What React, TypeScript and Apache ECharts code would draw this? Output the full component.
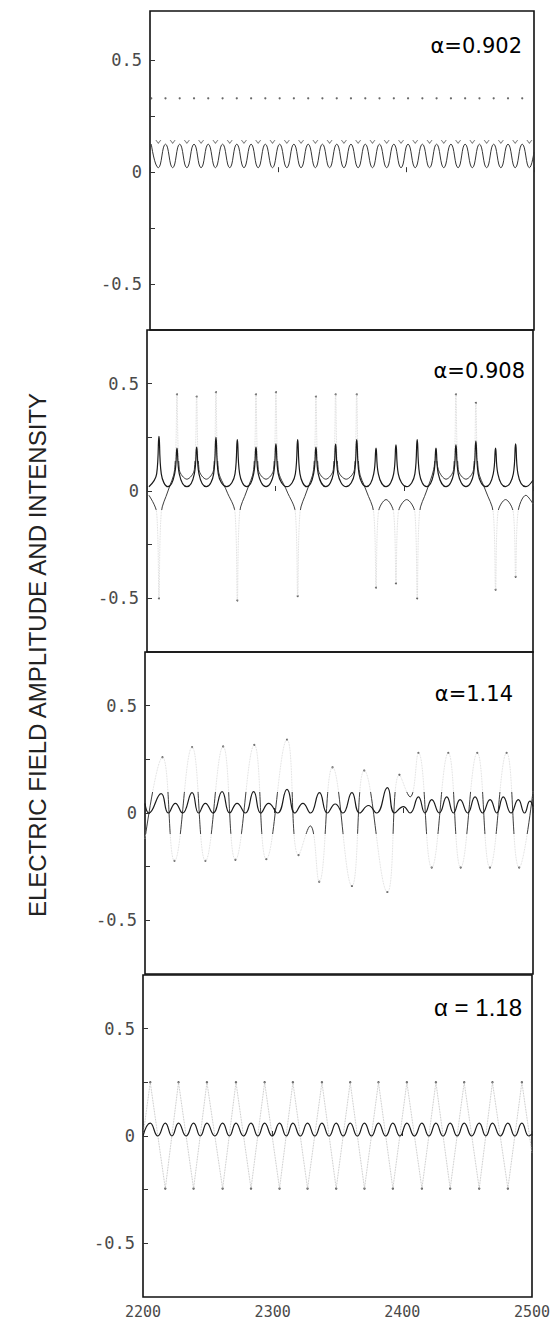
import React, { useEffect, useRef } from "react";
import * as echarts from "echarts";

// ---------- axes / text ----------
const xMin = 2200;
const xMax = 2500;
const xInterval = 100;
const yTickValues = [-0.5, -0.25, 0, 0.25, 0.5];
const yLabelValues = [-0.5, 0, 0.5];
const panelYMin = [-0.705, -0.75, -0.75, -0.75];
const panelYMax = [0.72, 0.75, 0.75, 0.75];
const alphaLabels = ["α=0.902", "α=0.908", "α=1.14", "α = 1.18"];
const yTitle = "ELECTRIC FIELD AMPLITUDE AND INTENSITY";

// ---------- panel 1 (alpha = 0.902) ----------
const p1PeakX = [2201.0, 2212.1, 2223.2, 2234.4, 2245.5, 2256.7, 2267.8, 2279.0, 2290.1, 2301.3, 2312.4, 2323.6, 2334.7, 2345.9, 2357.0, 2368.2, 2379.3, 2390.5, 2401.6, 2412.8, 2423.9, 2435.1, 2446.2, 2457.4, 2468.5, 2479.7, 2490.8];
const p1TroughX = [2206.5, 2217.7, 2228.8, 2239.9, 2251.1, 2262.3, 2273.4, 2284.5, 2295.7, 2306.9, 2318.0, 2329.2, 2340.3, 2351.5, 2362.6, 2373.8, 2384.9, 2396.1, 2407.2, 2418.4, 2429.5, 2440.7, 2451.8, 2463.0, 2474.1, 2485.3, 2496.4];
const p1IntensityHigh = 0.125;
const p1IntensityLow = 0.02;
const p1FieldHigh = 0.33;
const p1FieldLow = 0.135;
const p1End = [2500, 0.09];

// ---------- panel 2 (alpha = 0.908) ----------
const p2SpikeX = [2209.3, 2223.3, 2238.6, 2253.6, 2270.2, 2284.7, 2300.2, 2317.1, 2331.3, 2346.6, 2363.0, 2378.0, 2393.5, 2410.0, 2424.6, 2440.1, 2455.6, 2470.9, 2486.5];
const p2SpikeY = [0.255, 0.2, 0.205, 0.25, 0.24, 0.205, 0.22, 0.24, 0.205, 0.218, 0.24, 0.2, 0.215, 0.24, 0.2, 0.215, 0.233, 0.2, 0.22];
const p2TroughX = [2201.5, 2216.3, 2231.0, 2246.1, 2261.9, 2277.5, 2292.5, 2308.7, 2324.2, 2339.0, 2354.8, 2370.5, 2385.8, 2401.8, 2417.3, 2432.4, 2447.9, 2463.3, 2478.7, 2494.5];
const p2TroughY = [0.02, 0.02, 0.02, 0.02, 0.02, 0.02, 0.02, 0.02, 0.02, 0.02, 0.02, 0.02, 0.02, 0.02, 0.02, 0.02, 0.02, 0.02, 0.02, 0.02];
const p2ShoulderY = 0.08;
const p2SpikeHalfWidth = 1.8;
const p2FieldTip = [-0.5, 0.45, 0.44, 0.46, -0.51, 0.45, 0.46, -0.49, 0.44, 0.45, 0.45, -0.45, -0.43, -0.5, 0.2, 0.45, 0.41, -0.46, -0.4];
const p2FieldTroughY = [-0.02, 0.0, 0.055, 0.055, 0.0, 0.0, 0.055, 0.0, 0.0, 0.055, 0.055, 0.0, -0.04, -0.04, 0.0, 0.055, 0.055, 0.0, -0.04, -0.02];
const p2FieldShoulder = 0.1;
const p2End = [2500, 0.05];
const p2FieldEnd = [2500, -0.06];

// ---------- panel 3 (alpha = 1.14) ----------
const p3Intensity = [
  [2200, 0.045], [2203, 0.0], [2212.5, 0.09], [2218, 0.0], [2223.5, 0.045], [2229, 0.0],
  [2236.4, 0.095], [2241.5, 0.0], [2246.7, 0.045], [2252.5, 0.0], [2259.6, 0.1], [2265.5, 0.0],
  [2271.2, 0.045], [2277.5, 0.0], [2284.0, 0.1], [2289.5, 0.0], [2295.6, 0.045], [2302.5, 0.0],
  [2309.8, 0.11], [2316, 0.0], [2322.1, 0.045], [2328, 0.0], [2334.9, 0.095], [2341, 0.0],
  [2347.1, 0.042], [2353, 0.0], [2360.0, 0.095], [2366, 0.0], [2372.8, 0.035], [2379, 0.0],
  [2387.4, 0.118], [2393, 0.0], [2399.8, 0.03], [2405, 0.0], [2411.4, 0.075], [2416.5, 0.0],
  [2421.7, 0.062], [2427.5, 0.0], [2433.3, 0.075], [2438.5, 0.0], [2443.6, 0.062], [2449.5, 0.0],
  [2455.2, 0.075], [2461, 0.0], [2466.8, 0.062], [2472, 0.0], [2477.0, 0.075], [2483, 0.0],
  [2488.6, 0.062], [2493.5, 0.0], [2497.6, 0.055], [2500, 0.03],
];
const p3Field = [
  [2200, -0.12], [2213.5, 0.26], [2222.8, -0.223], [2236.4, 0.307], [2246.7, -0.223],
  [2260.4, 0.31], [2269.9, -0.218], [2284.5, 0.317], [2293.8, -0.215], [2309.8, 0.342],
  [2318.7, -0.196], [2327.8, -0.06], [2334.7, -0.32], [2345.0, 0.213], [2360.0, -0.34],
  [2369.5, 0.198], [2387.4, -0.368], [2396.7, 0.178], [2405.0, 0.075], [2411.4, 0.28],
  [2421.7, -0.254], [2434.5, 0.28], [2444.1, -0.254], [2456.9, 0.28], [2466.7, -0.254],
  [2479.6, 0.28], [2489.3, -0.254], [2500, 0.1],
];

// ---------- panel 4 (alpha = 1.18) ----------
const p4FieldTopX = [2205.6, 2227.4, 2249.3, 2271.7, 2293.8, 2315.6, 2338.0, 2359.8, 2381.6, 2403.5, 2425.9, 2447.7, 2469.5, 2492.2];
const p4FieldBottomX = [2217.2, 2239.0, 2261.4, 2283.3, 2305.3, 2326.9, 2349.0, 2370.8, 2392.7, 2415.1, 2436.9, 2459.3, 2481.4];
const p4FieldTop = 0.25;
const p4FieldBottom = -0.245;
const p4FieldStart = [2200, 0.0];
const p4FieldEnd = [2500, -0.08];
const p4IntensityZeroX = [2200, 2211.4, 2222.3, 2233.2, 2244.2, 2255.4, 2266.6, 2277.5, 2288.6, 2299.6, 2310.5, 2321.3, 2332.5, 2343.5, 2354.4, 2365.3, 2376.2, 2387.2, 2398.1, 2409.3, 2420.5, 2431.4, 2442.3, 2453.5, 2464.4, 2475.5, 2486.8, 2497.5];
const p4IntensityPeak = 0.06;
const p4End = [2500, 0.01];

// ---------- layout ----------
const grids = [
  { left: 150, top: 11, width: 384, height: 319 },
  { left: 147, top: 330, width: 386, height: 322 },
  { left: 145, top: 652, width: 388, height: 322 },
  { left: 143, top: 975, width: 389, height: 322 },
];
const alphaPos = [
  { x: 522, y: 46 },
  { x: 525, y: 371 },
  { x: 513, y: 694 },
  { x: 522, y: 1007 },
];

const byX = (a: number[][]) => a.slice().sort((p, q) => p[0] - q[0]);

function buildOption() {
  // panel 1
  const p1Intensity = byX([
    ...p1PeakX.map((x) => [x, p1IntensityHigh]),
    ...p1TroughX.map((x) => [x, p1IntensityLow]),
    p1End,
  ]);

  // panel 2
  const p2Intensity: number[][] = [[p2TroughX[0], p2TroughY[0]]];
  const p2Field: number[][] = [[p2TroughX[0], p2FieldTroughY[0]]];
  p2SpikeX.forEach((x, i) => {
    p2Intensity.push(
      [x - p2SpikeHalfWidth, p2ShoulderY],
      [x, p2SpikeY[i]],
      [x + p2SpikeHalfWidth, p2ShoulderY],
      [p2TroughX[i + 1], p2TroughY[i + 1]]
    );
    const s = Math.sign(p2FieldTip[i]);
    p2Field.push(
      [x - p2SpikeHalfWidth, s * p2FieldShoulder],
      [x, p2FieldTip[i]],
      [x + p2SpikeHalfWidth, s * p2FieldShoulder],
      [p2TroughX[i + 1], p2FieldTroughY[i + 1]]
    );
  });
  p2Intensity.push(p2End);
  p2Field.push(p2FieldEnd);
  const p2Tips = p2SpikeX
    .map((x, i) => [x, p2FieldTip[i]])
    .filter((p) => Math.abs(p[1]) > 0.3);

  // panel 3
  const p3Tips = p3Field.filter((p) => Math.abs(p[1]) > 0.15 && p[0] > 2200 && p[0] < 2500);

  // panel 4
  const p4Field = byX([
    p4FieldStart,
    ...p4FieldTopX.map((x) => [x, p4FieldTop]),
    ...p4FieldBottomX.map((x) => [x, p4FieldBottom]),
    p4FieldEnd,
  ]);
  const p4Intensity = byX([
    ...p4IntensityZeroX.map((x) => [x, 0]),
    ...p4FieldTopX.map((x) => [x, p4IntensityPeak]),
    ...p4FieldBottomX.map((x) => [x, p4IntensityPeak]),
    p4End,
  ]);
  const p4Tips = p4Field.filter((p) => Math.abs(p[1]) > 0.2);

  const axisTextColor = "#4a4a4a";
  const xAxes = grids.map((_, i) => ({
    type: "value",
    gridIndex: i,
    min: xMin,
    max: xMax,
    interval: xInterval,
    axisLine: { show: false },
    splitLine: { show: false },
    axisTick: { show: true, inside: true, length: 5, lineStyle: { color: "#333", width: 1 } },
    axisLabel: {
      show: i === 3,
      showMinLabel: true,
      showMaxLabel: true,
      margin: 7,
      fontFamily: "DejaVu Sans Mono",
      fontSize: 15,
      lineHeight: 15,
      color: axisTextColor,
      formatter: (v: number) => String(v),
    },
  }));
  const yAxes = grids.map((_, i) => ({
    type: "value",
    gridIndex: i,
    min: panelYMin[i],
    max: panelYMax[i],
    axisLine: { show: false },
    splitLine: { show: false },
    axisTick: {
      show: true,
      inside: true,
      length: 5,
      customValues: yTickValues,
      lineStyle: { color: "#333", width: 1 },
    },
    axisLabel: {
      customValues: yLabelValues,
      margin: 8,
      fontFamily: "DejaVu Sans Mono",
      fontSize: 17,
      color: axisTextColor,
      formatter: (v: number) => String(v),
    },
  }));

  const line = (gi: number, data: number[][], extra: any) => ({
    type: "line",
    xAxisIndex: gi,
    yAxisIndex: gi,
    data,
    showSymbol: false,
    silent: true,
    ...extra,
  });
  const dots = (gi: number, data: number[][], extra: any) => ({
    type: "scatter",
    xAxisIndex: gi,
    yAxisIndex: gi,
    data,
    silent: true,
    symbol: "circle",
    symbolSize: 2.4,
    itemStyle: { color: "#333" },
    ...extra,
  });

  const series: any[] = [
    // 0 panel 1 field maxima
    dots(0, p1PeakX.map((x) => [x, p1FieldHigh]), { symbolSize: 2.2, itemStyle: { color: "#444" } }),
    // 1 panel 1 field minima (small v marks)
    dots(0, p1TroughX.map((x) => [x, p1FieldLow]), {
      symbol: "path://M0,0 L5,7 L10,0 L8.4,0 L5,4.6 L1.6,0 Z",
      symbolSize: [6, 4],
      itemStyle: { color: "#555" },
    }),
    // 2 panel 1 intensity
    line(0, p1Intensity, { smooth: 0.5, lineStyle: { color: "#333", width: 1 } }),
    // 3 panel 2 field, faint dotted full trace
    line(1, p2Field, { smooth: 0.35, lineStyle: { color: "#cfcfcf", width: 0.8, type: "dotted" } }),
    // 4 panel 2 field, dense part near the baseline (coloured by visualMap)
    line(1, p2Field, { smooth: 0.35, lineStyle: { width: 0.9 } }),
    // 5 panel 2 field tips
    dots(1, p2Tips, { symbolSize: 2 }),
    // 6 panel 2 intensity
    line(1, p2Intensity, { smooth: 0.45, lineStyle: { color: "#1a1a1a", width: 1.2 } }),
    // 7 panel 3 field, faint dotted
    line(2, p3Field, { smooth: 0.45, lineStyle: { color: "#d2d2d2", width: 0.8, type: "dotted" } }),
    // 8 panel 3 field dense part near the baseline
    line(2, p3Field, { smooth: 0.45, lineStyle: { width: 0.9 } }),
    // 9 panel 3 field tips
    dots(2, p3Tips, { symbolSize: 2.2 }),
    // 10 panel 3 intensity
    line(2, p3Intensity, { smooth: 0.5, lineStyle: { color: "#1a1a1a", width: 1.2 } }),
    // 11 panel 4 field
    line(3, p4Field, { lineStyle: { color: "#b0b0b0", width: 0.8, type: "dotted" } }),
    // 12 panel 4 tips
    dots(3, p4Tips, { symbolSize: 2.4 }),
    // 13 panel 4 intensity
    line(3, p4Intensity, { smooth: 0.5, lineStyle: { color: "#1a1a1a", width: 1.2 } }),
  ];

  const visualMap = [
    { si: 4, lo: -0.09, hi: 0.14 },
    { si: 8, lo: -0.1, hi: 0.1 },
  ].map((v) => ({
    type: "piecewise",
    show: false,
    dimension: 1,
    seriesIndex: v.si,
    pieces: [{ gte: v.lo, lte: v.hi, color: "#2e2e2e" }],
    outOfRange: { color: "rgba(255,255,255,0)" },
  }));

  const graphic: any[] = [
    {
      type: "text",
      x: 37,
      y: 655,
      rotation: Math.PI / 2,
      silent: true,
      style: {
        text: yTitle,
        font: '24px "Liberation Sans"',
        fill: "#222",
        align: "center",
        verticalAlign: "middle",
      },
    },
    ...alphaLabels.map((t, i) => ({
      type: "text",
      x: alphaPos[i].x,
      y: alphaPos[i].y,
      silent: true,
      style: {
        text: t,
        font: i === 3 ? '24px "Liberation Sans"' : '21px "DejaVu Sans"',
        fill: "#000",
        align: "right",
        verticalAlign: "middle",
      },
    })),
  ];

  return {
    animation: false,
    backgroundColor: "#ffffff",
    grid: grids.map((g) => ({
      ...g,
      show: true,
      borderColor: "#111",
      borderWidth: 1.6,
      backgroundColor: "transparent",
      containLabel: false,
      outerBoundsMode: "none",
    })),
    xAxis: xAxes,
    yAxis: yAxes,
    visualMap,
    series,
    graphic,
  };
}

export default function App() {
  const ref = useRef<HTMLDivElement>(null);
  useEffect(() => {
    if (!ref.current) return;
    const chart = echarts.init(ref.current, null, { renderer: "svg" });
    chart.setOption(buildOption() as any);
    return () => chart.dispose();
  }, []);
  return (
    <div
      ref={ref}
      style={{ position: "absolute", left: 0, top: 0, width: 553, height: 1320, background: "#fff" }}
    />
  );
}
